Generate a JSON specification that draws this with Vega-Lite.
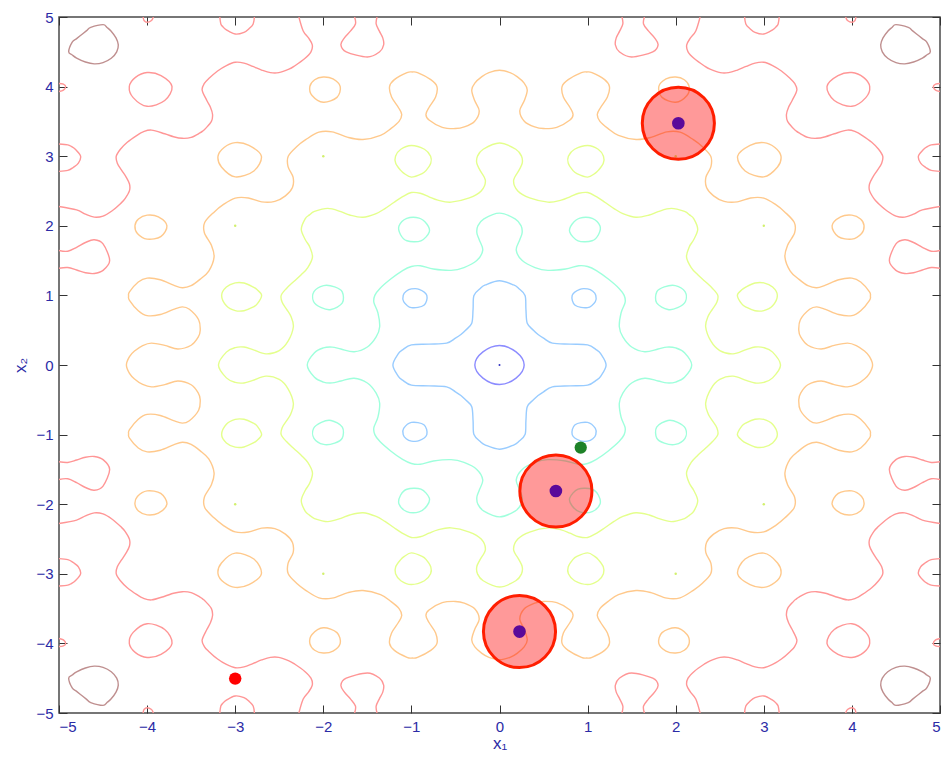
{
"$schema":"https://vega.github.io/schema/vega-lite/v6.json",
"width":881,"height":696,
"autosize":{"type":"none"},
"padding":{"left":59,"top":17,"right":6,"bottom":45},
"background":"white",
"config":{"view":{"stroke":"#4a4a4a","strokeWidth":1.5}},
"resolve":{"axis":{"x":"independent","y":"independent"}},
"layer":[
{
"data":{"values":"l,c,x,y\n2,a,0.28,0\n2,a,0.188,0.188\n2,a,0,0.28\n2,a,-0.188,0.188\n2,a,-0.28,0\n2,a,-0.188,-0.188\n2,a,0,-0.28\n2,a,0.188,-0.188\n4,b,1.21,0\n4,b,1.15,0.16\n4,b,1.1,0.218\n4,b,1,0.29\n4,b,0.8,0.3\n4,b,0.6,0.315\n4,b,0.5,0.385\n4,b,0.438,0.438\n4,b,0.385,0.5\n4,b,0.315,0.6\n4,b,0.3,0.8\n4,b,0.29,1\n4,b,0.218,1.1\n4,b,0.16,1.15\n4,b,0,1.21\n4,b,-0.16,1.15\n4,b,-0.218,1.1\n4,b,-0.29,1\n4,b,-0.3,0.8\n4,b,-0.315,0.6\n4,b,-0.385,0.5\n4,b,-0.438,0.438\n4,b,-0.5,0.385\n4,b,-0.6,0.315\n4,b,-0.8,0.3\n4,b,-1,0.29\n4,b,-1.1,0.218\n4,b,-1.15,0.16\n4,b,-1.21,0\n4,b,-1.15,-0.16\n4,b,-1.1,-0.218\n4,b,-1,-0.29\n4,b,-0.8,-0.3\n4,b,-0.6,-0.315\n4,b,-0.5,-0.385\n4,b,-0.438,-0.438\n4,b,-0.385,-0.5\n4,b,-0.315,-0.6\n4,b,-0.3,-0.8\n4,b,-0.29,-1\n4,b,-0.218,-1.1\n4,b,-0.16,-1.15\n4,b,0,-1.21\n4,b,0.16,-1.15\n4,b,0.218,-1.1\n4,b,0.29,-1\n4,b,0.3,-0.8\n4,b,0.315,-0.6\n4,b,0.385,-0.5\n4,b,0.438,-0.438\n4,b,0.5,-0.385\n4,b,0.6,-0.315\n4,b,0.8,-0.3\n4,b,1,-0.29\n4,b,1.1,-0.218\n4,b,1.15,-0.16\n4,c1,1.093,1\n4,c1,1.059,1.059\n4,c1,1,1.093\n4,c1,0.912,1.088\n4,c1,0.825,1\n4,c1,0.858,0.858\n4,c1,1,0.825\n4,c1,1.088,0.912\n4,c2,-1.093,1\n4,c2,-1.059,1.059\n4,c2,-1,1.093\n4,c2,-0.912,1.088\n4,c2,-0.825,1\n4,c2,-0.858,0.858\n4,c2,-1,0.825\n4,c2,-1.088,0.912\n4,c3,-1.093,-1\n4,c3,-1.059,-1.059\n4,c3,-1,-1.093\n4,c3,-0.912,-1.088\n4,c3,-0.825,-1\n4,c3,-0.858,-0.858\n4,c3,-1,-0.825\n4,c3,-1.088,-0.912\n4,c4,1.093,-1\n4,c4,1.059,-1.059\n4,c4,1,-1.093\n4,c4,0.912,-1.088\n4,c4,0.825,-1\n4,c4,0.858,-0.858\n4,c4,1,-0.825\n4,c4,1.088,-0.912\n6,d,2.182,0\n6,d,2.1,0.177\n6,d,2,0.245\n6,d,1.9,0.257\n6,d,1.8,0.23\n6,d,1.65,0.19\n6,d,1.5,0.258\n6,d,1.4,0.403\n6,d,1.36,0.55\n6,d,1.38,0.75\n6,d,1.426,0.9\n6,d,1.415,1\n6,d,1.357,1.1\n6,d,1.235,1.235\n6,d,1.1,1.357\n6,d,1,1.415\n6,d,0.9,1.426\n6,d,0.75,1.38\n6,d,0.55,1.36\n6,d,0.403,1.4\n6,d,0.258,1.5\n6,d,0.19,1.65\n6,d,0.23,1.8\n6,d,0.257,1.9\n6,d,0.245,2\n6,d,0.177,2.1\n6,d,0,2.182\n6,d,-0.177,2.1\n6,d,-0.245,2\n6,d,-0.257,1.9\n6,d,-0.23,1.8\n6,d,-0.19,1.65\n6,d,-0.258,1.5\n6,d,-0.403,1.4\n6,d,-0.55,1.36\n6,d,-0.75,1.38\n6,d,-0.9,1.426\n6,d,-1,1.415\n6,d,-1.1,1.357\n6,d,-1.235,1.235\n6,d,-1.357,1.1\n6,d,-1.415,1\n6,d,-1.426,0.9\n6,d,-1.38,0.75\n6,d,-1.36,0.55\n6,d,-1.4,0.403\n6,d,-1.5,0.258\n6,d,-1.65,0.19\n6,d,-1.8,0.23\n6,d,-1.9,0.257\n6,d,-2,0.245\n6,d,-2.1,0.177\n6,d,-2.182,0\n6,d,-2.1,-0.177\n6,d,-2,-0.245\n6,d,-1.9,-0.257\n6,d,-1.8,-0.23\n6,d,-1.65,-0.19\n6,d,-1.5,-0.258\n6,d,-1.4,-0.403\n6,d,-1.36,-0.55\n6,d,-1.38,-0.75\n6,d,-1.426,-0.9\n6,d,-1.415,-1\n6,d,-1.357,-1.1\n6,d,-1.235,-1.235\n6,d,-1.1,-1.357\n6,d,-1,-1.415\n6,d,-0.9,-1.426\n6,d,-0.75,-1.38\n6,d,-0.55,-1.36\n6,d,-0.403,-1.4\n6,d,-0.258,-1.5\n6,d,-0.19,-1.65\n6,d,-0.23,-1.8\n6,d,-0.257,-1.9\n6,d,-0.245,-2\n6,d,-0.177,-2.1\n6,d,0,-2.182\n6,d,0.177,-2.1\n6,d,0.245,-2\n6,d,0.257,-1.9\n6,d,0.23,-1.8\n6,d,0.19,-1.65\n6,d,0.258,-1.5\n6,d,0.403,-1.4\n6,d,0.55,-1.36\n6,d,0.75,-1.38\n6,d,0.9,-1.426\n6,d,1,-1.415\n6,d,1.1,-1.357\n6,d,1.235,-1.235\n6,d,1.357,-1.1\n6,d,1.415,-1\n6,d,1.426,-0.9\n6,d,1.38,-0.75\n6,d,1.36,-0.55\n6,d,1.4,-0.403\n6,d,1.5,-0.258\n6,d,1.65,-0.19\n6,d,1.8,-0.23\n6,d,1.9,-0.257\n6,d,2,-0.245\n6,d,2.1,-0.177\n6,e1,2.106,1.053\n6,e1,1.996,1.141\n6,e1,1.871,1.123\n6,e1,1.785,1.051\n6,e1,1.784,0.892\n6,e1,1.912,0.797\n6,e1,2.022,0.823\n6,e1,2.111,0.912\n6,e2,1.053,2.106\n6,e2,1.141,1.996\n6,e2,1.123,1.871\n6,e2,1.051,1.785\n6,e2,0.892,1.784\n6,e2,0.797,1.912\n6,e2,0.823,2.022\n6,e2,0.912,2.111\n6,e3,-1.053,2.106\n6,e3,-1.141,1.996\n6,e3,-1.123,1.871\n6,e3,-1.051,1.785\n6,e3,-0.892,1.784\n6,e3,-0.797,1.912\n6,e3,-0.823,2.022\n6,e3,-0.912,2.111\n6,e4,-2.106,1.053\n6,e4,-1.996,1.141\n6,e4,-1.871,1.123\n6,e4,-1.785,1.051\n6,e4,-1.784,0.892\n6,e4,-1.912,0.797\n6,e4,-2.022,0.823\n6,e4,-2.111,0.912\n6,e5,-2.106,-1.053\n6,e5,-1.996,-1.141\n6,e5,-1.871,-1.123\n6,e5,-1.785,-1.051\n6,e5,-1.784,-0.892\n6,e5,-1.912,-0.797\n6,e5,-2.022,-0.823\n6,e5,-2.111,-0.912\n6,e6,-1.053,-2.106\n6,e6,-1.141,-1.996\n6,e6,-1.123,-1.871\n6,e6,-1.051,-1.785\n6,e6,-0.892,-1.784\n6,e6,-0.797,-1.912\n6,e6,-0.823,-2.022\n6,e6,-0.912,-2.111\n6,e7,1.053,-2.106\n6,e7,1.141,-1.996\n6,e7,1.123,-1.871\n6,e7,1.051,-1.785\n6,e7,0.892,-1.784\n6,e7,0.797,-1.912\n6,e7,0.823,-2.022\n6,e7,0.912,-2.111\n6,e8,2.106,-1.053\n6,e8,1.996,-1.141\n6,e8,1.871,-1.123\n6,e8,1.785,-1.051\n6,e8,1.784,-0.892\n6,e8,1.912,-0.797\n6,e8,2.022,-0.823\n6,e8,2.111,-0.912\n8,f,3.19,0\n8,f,3.1,0.185\n8,f,3,0.25\n8,f,2.9,0.258\n8,f,2.8,0.222\n8,f,2.65,0.16\n8,f,2.5,0.208\n8,f,2.4,0.342\n8,f,2.34,0.55\n8,f,2.368,0.7\n8,f,2.416,0.8\n8,f,2.467,0.9\n8,f,2.478,1\n8,f,2.418,1.1\n8,f,2.335,1.2\n8,f,2.248,1.3\n8,f,2.176,1.4\n8,f,2.123,1.55\n8,f,2.155,1.7\n8,f,2.204,1.8\n8,f,2.25,1.95\n8,f,2.206,2.1\n8,f,2.157,2.157\n8,f,2.1,2.206\n8,f,1.95,2.25\n8,f,1.8,2.204\n8,f,1.7,2.155\n8,f,1.55,2.123\n8,f,1.4,2.176\n8,f,1.3,2.248\n8,f,1.2,2.335\n8,f,1.1,2.418\n8,f,1,2.478\n8,f,0.9,2.467\n8,f,0.8,2.416\n8,f,0.7,2.368\n8,f,0.55,2.34\n8,f,0.342,2.4\n8,f,0.208,2.5\n8,f,0.16,2.65\n8,f,0.222,2.8\n8,f,0.258,2.9\n8,f,0.25,3\n8,f,0.185,3.1\n8,f,0,3.19\n8,f,-0.185,3.1\n8,f,-0.25,3\n8,f,-0.258,2.9\n8,f,-0.222,2.8\n8,f,-0.16,2.65\n8,f,-0.208,2.5\n8,f,-0.342,2.4\n8,f,-0.55,2.34\n8,f,-0.7,2.368\n8,f,-0.8,2.416\n8,f,-0.9,2.467\n8,f,-1,2.478\n8,f,-1.1,2.418\n8,f,-1.2,2.335\n8,f,-1.3,2.248\n8,f,-1.4,2.176\n8,f,-1.55,2.123\n8,f,-1.7,2.155\n8,f,-1.8,2.204\n8,f,-1.95,2.25\n8,f,-2.1,2.206\n8,f,-2.157,2.157\n8,f,-2.206,2.1\n8,f,-2.25,1.95\n8,f,-2.204,1.8\n8,f,-2.155,1.7\n8,f,-2.123,1.55\n8,f,-2.176,1.4\n8,f,-2.248,1.3\n8,f,-2.335,1.2\n8,f,-2.418,1.1\n8,f,-2.478,1\n8,f,-2.467,0.9\n8,f,-2.416,0.8\n8,f,-2.368,0.7\n8,f,-2.34,0.55\n8,f,-2.4,0.342\n8,f,-2.5,0.208\n8,f,-2.65,0.16\n8,f,-2.8,0.222\n8,f,-2.9,0.258\n8,f,-3,0.25\n8,f,-3.1,0.185\n8,f,-3.19,0\n8,f,-3.1,-0.185\n8,f,-3,-0.25\n8,f,-2.9,-0.258\n8,f,-2.8,-0.222\n8,f,-2.65,-0.16\n8,f,-2.5,-0.208\n8,f,-2.4,-0.342\n8,f,-2.34,-0.55\n8,f,-2.368,-0.7\n8,f,-2.416,-0.8\n8,f,-2.467,-0.9\n8,f,-2.478,-1\n8,f,-2.418,-1.1\n8,f,-2.335,-1.2\n8,f,-2.248,-1.3\n8,f,-2.176,-1.4\n8,f,-2.123,-1.55\n8,f,-2.155,-1.7\n8,f,-2.204,-1.8\n8,f,-2.25,-1.95\n8,f,-2.206,-2.1\n8,f,-2.157,-2.157\n8,f,-2.1,-2.206\n8,f,-1.95,-2.25\n8,f,-1.8,-2.204\n8,f,-1.7,-2.155\n8,f,-1.55,-2.123\n8,f,-1.4,-2.176\n8,f,-1.3,-2.248\n8,f,-1.2,-2.335\n8,f,-1.1,-2.418\n8,f,-1,-2.478\n8,f,-0.9,-2.467\n8,f,-0.8,-2.416\n8,f,-0.7,-2.368\n8,f,-0.55,-2.34\n8,f,-0.342,-2.4\n8,f,-0.208,-2.5\n8,f,-0.16,-2.65\n8,f,-0.222,-2.8\n8,f,-0.258,-2.9\n8,f,-0.25,-3\n8,f,-0.185,-3.1\n8,f,0,-3.19\n8,f,0.185,-3.1\n8,f,0.25,-3\n8,f,0.258,-2.9\n8,f,0.222,-2.8\n8,f,0.16,-2.65\n8,f,0.208,-2.5\n8,f,0.342,-2.4\n8,f,0.55,-2.34\n8,f,0.7,-2.368\n8,f,0.8,-2.416\n8,f,0.9,-2.467\n8,f,1,-2.478\n8,f,1.1,-2.418\n8,f,1.2,-2.335\n8,f,1.3,-2.248\n8,f,1.4,-2.176\n8,f,1.55,-2.123\n8,f,1.7,-2.155\n8,f,1.8,-2.204\n8,f,1.95,-2.25\n8,f,2.1,-2.206\n8,f,2.157,-2.157\n8,f,2.206,-2.1\n8,f,2.25,-1.95\n8,f,2.204,-1.8\n8,f,2.155,-1.7\n8,f,2.123,-1.55\n8,f,2.176,-1.4\n8,f,2.248,-1.3\n8,f,2.335,-1.2\n8,f,2.418,-1.1\n8,f,2.478,-1\n8,f,2.467,-0.9\n8,f,2.416,-0.8\n8,f,2.368,-0.7\n8,f,2.34,-0.55\n8,f,2.4,-0.342\n8,f,2.5,-0.208\n8,f,2.65,-0.16\n8,f,2.8,-0.222\n8,f,2.9,-0.258\n8,f,3,-0.25\n8,f,3.1,-0.185\n8,g1,3.154,1\n8,g1,3.1,1.12\n8,g1,3,1.18\n8,g1,2.9,1.178\n8,g1,2.8,1.124\n8,g1,2.75,1.08\n8,g1,2.7,1\n8,g1,2.75,0.878\n8,g1,2.8,0.83\n8,g1,2.9,0.78\n8,g1,3,0.782\n8,g1,3.1,0.852\n8,g2,1,3.154\n8,g2,1.12,3.1\n8,g2,1.18,3\n8,g2,1.178,2.9\n8,g2,1.124,2.8\n8,g2,1.08,2.75\n8,g2,1,2.7\n8,g2,0.878,2.75\n8,g2,0.83,2.8\n8,g2,0.78,2.9\n8,g2,0.782,3\n8,g2,0.852,3.1\n8,g3,-1,3.154\n8,g3,-1.12,3.1\n8,g3,-1.18,3\n8,g3,-1.178,2.9\n8,g3,-1.124,2.8\n8,g3,-1.08,2.75\n8,g3,-1,2.7\n8,g3,-0.878,2.75\n8,g3,-0.83,2.8\n8,g3,-0.78,2.9\n8,g3,-0.782,3\n8,g3,-0.852,3.1\n8,g4,-3.154,1\n8,g4,-3.1,1.12\n8,g4,-3,1.18\n8,g4,-2.9,1.178\n8,g4,-2.8,1.124\n8,g4,-2.75,1.08\n8,g4,-2.7,1\n8,g4,-2.75,0.878\n8,g4,-2.8,0.83\n8,g4,-2.9,0.78\n8,g4,-3,0.782\n8,g4,-3.1,0.852\n8,g5,-3.154,-1\n8,g5,-3.1,-1.12\n8,g5,-3,-1.18\n8,g5,-2.9,-1.178\n8,g5,-2.8,-1.124\n8,g5,-2.75,-1.08\n8,g5,-2.7,-1\n8,g5,-2.75,-0.878\n8,g5,-2.8,-0.83\n8,g5,-2.9,-0.78\n8,g5,-3,-0.782\n8,g5,-3.1,-0.852\n8,g6,-1,-3.154\n8,g6,-1.12,-3.1\n8,g6,-1.18,-3\n8,g6,-1.178,-2.9\n8,g6,-1.124,-2.8\n8,g6,-1.08,-2.75\n8,g6,-1,-2.7\n8,g6,-0.878,-2.75\n8,g6,-0.83,-2.8\n8,g6,-0.78,-2.9\n8,g6,-0.782,-3\n8,g6,-0.852,-3.1\n8,g7,1,-3.154\n8,g7,1.12,-3.1\n8,g7,1.18,-3\n8,g7,1.178,-2.9\n8,g7,1.124,-2.8\n8,g7,1.08,-2.75\n8,g7,1,-2.7\n8,g7,0.878,-2.75\n8,g7,0.83,-2.8\n8,g7,0.78,-2.9\n8,g7,0.782,-3\n8,g7,0.852,-3.1\n8,g8,3.154,-1\n8,g8,3.1,-1.12\n8,g8,3,-1.18\n8,g8,2.9,-1.178\n8,g8,2.8,-1.124\n8,g8,2.75,-1.08\n8,g8,2.7,-1\n8,g8,2.75,-0.878\n8,g8,2.8,-0.83\n8,g8,2.9,-0.78\n8,g8,3,-0.782\n8,g8,3.1,-0.852\n10,h,4.235,0\n10,h,4.2,0.12\n10,h,4.143,0.2\n10,h,4.05,0.28\n10,h,3.95,0.315\n10,h,3.8,0.282\n10,h,3.65,0.23\n10,h,3.5,0.284\n10,h,3.42,0.4\n10,h,3.397,0.5\n10,h,3.415,0.65\n10,h,3.52,0.8\n10,h,3.6,0.835\n10,h,3.7,0.8\n10,h,3.85,0.725\n10,h,4,0.71\n10,h,4.1,0.78\n10,h,4.2,0.93\n10,h,4.21,0.99\n10,h,4.2,1.05\n10,h,4.1,1.193\n10,h,4,1.248\n10,h,3.85,1.225\n10,h,3.7,1.148\n10,h,3.6,1.11\n10,h,3.5,1.14\n10,h,3.4,1.23\n10,h,3.3,1.35\n10,h,3.24,1.55\n10,h,3.27,1.72\n10,h,3.35,1.9\n10,h,3.345,2.05\n10,h,3.237,2.2\n10,h,3.14,2.3\n10,h,3,2.398\n10,h,2.85,2.4\n10,h,2.7,2.343\n10,h,2.55,2.35\n10,h,2.43,2.43\n10,h,2.35,2.55\n10,h,2.343,2.7\n10,h,2.4,2.85\n10,h,2.398,3\n10,h,2.3,3.14\n10,h,2.2,3.237\n10,h,2.05,3.345\n10,h,1.9,3.35\n10,h,1.72,3.27\n10,h,1.55,3.24\n10,h,1.35,3.3\n10,h,1.23,3.4\n10,h,1.14,3.5\n10,h,1.11,3.6\n10,h,1.148,3.7\n10,h,1.225,3.85\n10,h,1.248,4\n10,h,1.193,4.1\n10,h,1.05,4.2\n10,h,0.99,4.21\n10,h,0.93,4.2\n10,h,0.78,4.1\n10,h,0.71,4\n10,h,0.725,3.85\n10,h,0.8,3.7\n10,h,0.835,3.6\n10,h,0.8,3.52\n10,h,0.65,3.415\n10,h,0.5,3.397\n10,h,0.4,3.42\n10,h,0.284,3.5\n10,h,0.23,3.65\n10,h,0.282,3.8\n10,h,0.315,3.95\n10,h,0.28,4.05\n10,h,0.2,4.143\n10,h,0.12,4.2\n10,h,0,4.235\n10,h,-0.12,4.2\n10,h,-0.2,4.143\n10,h,-0.28,4.05\n10,h,-0.315,3.95\n10,h,-0.282,3.8\n10,h,-0.23,3.65\n10,h,-0.284,3.5\n10,h,-0.4,3.42\n10,h,-0.5,3.397\n10,h,-0.65,3.415\n10,h,-0.8,3.52\n10,h,-0.835,3.6\n10,h,-0.8,3.7\n10,h,-0.725,3.85\n10,h,-0.71,4\n10,h,-0.78,4.1\n10,h,-0.93,4.2\n10,h,-0.99,4.21\n10,h,-1.05,4.2\n10,h,-1.193,4.1\n10,h,-1.248,4\n10,h,-1.225,3.85\n10,h,-1.148,3.7\n10,h,-1.11,3.6\n10,h,-1.14,3.5\n10,h,-1.23,3.4\n10,h,-1.35,3.3\n10,h,-1.55,3.24\n10,h,-1.72,3.27\n10,h,-1.9,3.35\n10,h,-2.05,3.345\n10,h,-2.2,3.237\n10,h,-2.3,3.14\n10,h,-2.398,3\n10,h,-2.4,2.85\n10,h,-2.343,2.7\n10,h,-2.35,2.55\n10,h,-2.43,2.43\n10,h,-2.55,2.35\n10,h,-2.7,2.343\n10,h,-2.85,2.4\n10,h,-3,2.398\n10,h,-3.14,2.3\n10,h,-3.237,2.2\n10,h,-3.345,2.05\n10,h,-3.35,1.9\n10,h,-3.27,1.72\n10,h,-3.24,1.55\n10,h,-3.3,1.35\n10,h,-3.4,1.23\n10,h,-3.5,1.14\n10,h,-3.6,1.11\n10,h,-3.7,1.148\n10,h,-3.85,1.225\n10,h,-4,1.248\n10,h,-4.1,1.193\n10,h,-4.2,1.05\n10,h,-4.21,0.99\n10,h,-4.2,0.93\n10,h,-4.1,0.78\n10,h,-4,0.71\n10,h,-3.85,0.725\n10,h,-3.7,0.8\n10,h,-3.6,0.835\n10,h,-3.52,0.8\n10,h,-3.415,0.65\n10,h,-3.397,0.5\n10,h,-3.42,0.4\n10,h,-3.5,0.284\n10,h,-3.65,0.23\n10,h,-3.8,0.282\n10,h,-3.95,0.315\n10,h,-4.05,0.28\n10,h,-4.143,0.2\n10,h,-4.2,0.12\n10,h,-4.235,0\n10,h,-4.2,-0.12\n10,h,-4.143,-0.2\n10,h,-4.05,-0.28\n10,h,-3.95,-0.315\n10,h,-3.8,-0.282\n10,h,-3.65,-0.23\n10,h,-3.5,-0.284\n10,h,-3.42,-0.4\n10,h,-3.397,-0.5\n10,h,-3.415,-0.65\n10,h,-3.52,-0.8\n10,h,-3.6,-0.835\n10,h,-3.7,-0.8\n10,h,-3.85,-0.725\n10,h,-4,-0.71\n10,h,-4.1,-0.78\n10,h,-4.2,-0.93\n10,h,-4.21,-0.99\n10,h,-4.2,-1.05\n10,h,-4.1,-1.193\n10,h,-4,-1.248\n10,h,-3.85,-1.225\n10,h,-3.7,-1.148\n10,h,-3.6,-1.11\n10,h,-3.5,-1.14\n10,h,-3.4,-1.23\n10,h,-3.3,-1.35\n10,h,-3.24,-1.55\n10,h,-3.27,-1.72\n10,h,-3.35,-1.9\n10,h,-3.345,-2.05\n10,h,-3.237,-2.2\n10,h,-3.14,-2.3\n10,h,-3,-2.398\n10,h,-2.85,-2.4\n10,h,-2.7,-2.343\n10,h,-2.55,-2.35\n10,h,-2.43,-2.43\n10,h,-2.35,-2.55\n10,h,-2.343,-2.7\n10,h,-2.4,-2.85\n10,h,-2.398,-3\n10,h,-2.3,-3.14\n10,h,-2.2,-3.237\n10,h,-2.05,-3.345\n10,h,-1.9,-3.35\n10,h,-1.72,-3.27\n10,h,-1.55,-3.24\n10,h,-1.35,-3.3\n10,h,-1.23,-3.4\n10,h,-1.14,-3.5\n10,h,-1.11,-3.6\n10,h,-1.148,-3.7\n10,h,-1.225,-3.85\n10,h,-1.248,-4\n10,h,-1.193,-4.1\n10,h,-1.05,-4.2\n10,h,-0.99,-4.21\n10,h,-0.93,-4.2\n10,h,-0.78,-4.1\n10,h,-0.71,-4\n10,h,-0.725,-3.85\n10,h,-0.8,-3.7\n10,h,-0.835,-3.6\n10,h,-0.8,-3.52\n10,h,-0.65,-3.415\n10,h,-0.5,-3.397\n10,h,-0.4,-3.42\n10,h,-0.284,-3.5\n10,h,-0.23,-3.65\n10,h,-0.282,-3.8\n10,h,-0.315,-3.95\n10,h,-0.28,-4.05\n10,h,-0.2,-4.143\n10,h,-0.12,-4.2\n10,h,0,-4.235\n10,h,0.12,-4.2\n10,h,0.2,-4.143\n10,h,0.28,-4.05\n10,h,0.315,-3.95\n10,h,0.282,-3.8\n10,h,0.23,-3.65\n10,h,0.284,-3.5\n10,h,0.4,-3.42\n10,h,0.5,-3.397\n10,h,0.65,-3.415\n10,h,0.8,-3.52\n10,h,0.835,-3.6\n10,h,0.8,-3.7\n10,h,0.725,-3.85\n10,h,0.71,-4\n10,h,0.78,-4.1\n10,h,0.93,-4.2\n10,h,0.99,-4.21\n10,h,1.05,-4.2\n10,h,1.193,-4.1\n10,h,1.248,-4\n10,h,1.225,-3.85\n10,h,1.148,-3.7\n10,h,1.11,-3.6\n10,h,1.14,-3.5\n10,h,1.23,-3.4\n10,h,1.35,-3.3\n10,h,1.55,-3.24\n10,h,1.72,-3.27\n10,h,1.9,-3.35\n10,h,2.05,-3.345\n10,h,2.2,-3.237\n10,h,2.3,-3.14\n10,h,2.398,-3\n10,h,2.4,-2.85\n10,h,2.343,-2.7\n10,h,2.35,-2.55\n10,h,2.43,-2.43\n10,h,2.55,-2.35\n10,h,2.7,-2.343\n10,h,2.85,-2.4\n10,h,3,-2.398\n10,h,3.14,-2.3\n10,h,3.237,-2.2\n10,h,3.345,-2.05\n10,h,3.35,-1.9\n10,h,3.27,-1.72\n10,h,3.24,-1.55\n10,h,3.3,-1.35\n10,h,3.4,-1.23\n10,h,3.5,-1.14\n10,h,3.6,-1.11\n10,h,3.7,-1.148\n10,h,3.85,-1.225\n10,h,4,-1.248\n10,h,4.1,-1.193\n10,h,4.2,-1.05\n10,h,4.21,-0.99\n10,h,4.2,-0.93\n10,h,4.1,-0.78\n10,h,4,-0.71\n10,h,3.85,-0.725\n10,h,3.7,-0.8\n10,h,3.6,-0.835\n10,h,3.52,-0.8\n10,h,3.415,-0.65\n10,h,3.397,-0.5\n10,h,3.42,-0.4\n10,h,3.5,-0.284\n10,h,3.65,-0.23\n10,h,3.8,-0.282\n10,h,3.95,-0.315\n10,h,4.05,-0.28\n10,h,4.143,-0.2\n10,h,4.2,-0.12\n10,i1,3.195,3\n10,i1,3.126,3.126\n10,i1,3,3.195\n10,i1,2.844,3.156\n10,i1,2.703,3\n10,i1,2.788,2.788\n10,i1,3,2.703\n10,i1,3.156,2.844\n10,i2,-3.195,3\n10,i2,-3.126,3.126\n10,i2,-3,3.195\n10,i2,-2.844,3.156\n10,i2,-2.703,3\n10,i2,-2.788,2.788\n10,i2,-3,2.703\n10,i2,-3.156,2.844\n10,i3,-3.195,-3\n10,i3,-3.126,-3.126\n10,i3,-3,-3.195\n10,i3,-2.844,-3.156\n10,i3,-2.703,-3\n10,i3,-2.788,-2.788\n10,i3,-3,-2.703\n10,i3,-3.156,-2.844\n10,i4,3.195,-3\n10,i4,3.126,-3.126\n10,i4,3,-3.195\n10,i4,2.844,-3.156\n10,i4,2.703,-3\n10,i4,2.788,-2.788\n10,i4,3,-2.703\n10,i4,3.156,-2.844\n10,j1,4.138,2\n10,j1,4.098,2.098\n10,j1,4,2.153\n10,j1,3.872,2.128\n10,j1,3.775,2\n10,j1,3.845,1.845\n10,j1,4,1.808\n10,j1,4.11,1.89\n10,j2,2,4.138\n10,j2,2.098,4.098\n10,j2,2.153,4\n10,j2,2.128,3.872\n10,j2,2,3.775\n10,j2,1.845,3.845\n10,j2,1.808,4\n10,j2,1.89,4.11\n10,j3,-2,4.138\n10,j3,-2.098,4.098\n10,j3,-2.153,4\n10,j3,-2.128,3.872\n10,j3,-2,3.775\n10,j3,-1.845,3.845\n10,j3,-1.808,4\n10,j3,-1.89,4.11\n10,j4,-4.138,2\n10,j4,-4.098,2.098\n10,j4,-4,2.153\n10,j4,-3.872,2.128\n10,j4,-3.775,2\n10,j4,-3.845,1.845\n10,j4,-4,1.808\n10,j4,-4.11,1.89\n10,j5,-4.138,-2\n10,j5,-4.098,-2.098\n10,j5,-4,-2.153\n10,j5,-3.872,-2.128\n10,j5,-3.775,-2\n10,j5,-3.845,-1.845\n10,j5,-4,-1.808\n10,j5,-4.11,-1.89\n10,j6,-2,-4.138\n10,j6,-2.098,-4.098\n10,j6,-2.153,-4\n10,j6,-2.128,-3.872\n10,j6,-2,-3.775\n10,j6,-1.845,-3.845\n10,j6,-1.808,-4\n10,j6,-1.89,-4.11\n10,j7,2,-4.138\n10,j7,2.098,-4.098\n10,j7,2.153,-4\n10,j7,2.128,-3.872\n10,j7,2,-3.775\n10,j7,1.845,-3.845\n10,j7,1.808,-4\n10,j7,1.89,-4.11\n10,j8,4.138,-2\n10,j8,4.098,-2.098\n10,j8,4,-2.153\n10,j8,3.872,-2.128\n10,j8,3.775,-2\n10,j8,3.845,-1.845\n10,j8,4,-1.808\n10,j8,4.11,-1.89\n12,k1,4.202,4\n12,k1,4.132,4.132\n12,k1,4,4.202\n12,k1,3.842,4.158\n12,k1,3.717,4\n12,k1,3.8,3.8\n12,k1,4,3.717\n12,k1,4.158,3.842\n12,k2,-4.202,4\n12,k2,-4.132,4.132\n12,k2,-4,4.202\n12,k2,-3.842,4.158\n12,k2,-3.717,4\n12,k2,-3.8,3.8\n12,k2,-4,3.717\n12,k2,-4.158,3.842\n12,k3,-4.202,-4\n12,k3,-4.132,-4.132\n12,k3,-4,-4.202\n12,k3,-3.842,-4.158\n12,k3,-3.717,-4\n12,k3,-3.8,-3.8\n12,k3,-4,-3.717\n12,k3,-4.158,-3.842\n12,k4,4.202,-4\n12,k4,4.132,-4.132\n12,k4,4,-4.202\n12,k4,3.842,-4.158\n12,k4,3.717,-4\n12,k4,3.8,-3.8\n12,k4,4,-3.717\n12,k4,4.158,-3.842\n14,m1,4.89,4.5\n14,m1,4.85,4.64\n14,m1,4.8,4.69\n14,m1,4.745,4.745\n14,m1,4.69,4.8\n14,m1,4.64,4.85\n14,m1,4.5,4.89\n14,m1,4.455,4.85\n14,m1,4.41,4.8\n14,m1,4.353,4.7\n14,m1,4.327,4.6\n14,m1,4.345,4.5\n14,m1,4.407,4.407\n14,m1,4.5,4.345\n14,m1,4.6,4.327\n14,m1,4.7,4.353\n14,m1,4.8,4.41\n14,m1,4.85,4.455\n14,m2,-4.89,4.5\n14,m2,-4.85,4.64\n14,m2,-4.8,4.69\n14,m2,-4.745,4.745\n14,m2,-4.69,4.8\n14,m2,-4.64,4.85\n14,m2,-4.5,4.89\n14,m2,-4.455,4.85\n14,m2,-4.41,4.8\n14,m2,-4.353,4.7\n14,m2,-4.327,4.6\n14,m2,-4.345,4.5\n14,m2,-4.407,4.407\n14,m2,-4.5,4.345\n14,m2,-4.6,4.327\n14,m2,-4.7,4.353\n14,m2,-4.8,4.41\n14,m2,-4.85,4.455\n14,m3,-4.89,-4.5\n14,m3,-4.85,-4.64\n14,m3,-4.8,-4.69\n14,m3,-4.745,-4.745\n14,m3,-4.69,-4.8\n14,m3,-4.64,-4.85\n14,m3,-4.5,-4.89\n14,m3,-4.455,-4.85\n14,m3,-4.41,-4.8\n14,m3,-4.353,-4.7\n14,m3,-4.327,-4.6\n14,m3,-4.345,-4.5\n14,m3,-4.407,-4.407\n14,m3,-4.5,-4.345\n14,m3,-4.6,-4.327\n14,m3,-4.7,-4.353\n14,m3,-4.8,-4.41\n14,m3,-4.85,-4.455\n14,m4,4.89,-4.5\n14,m4,4.85,-4.64\n14,m4,4.8,-4.69\n14,m4,4.745,-4.745\n14,m4,4.69,-4.8\n14,m4,4.64,-4.85\n14,m4,4.5,-4.89\n14,m4,4.455,-4.85\n14,m4,4.41,-4.8\n14,m4,4.353,-4.7\n14,m4,4.327,-4.6\n14,m4,4.345,-4.5\n14,m4,4.407,-4.407\n14,m4,4.5,-4.345\n14,m4,4.6,-4.327\n14,m4,4.7,-4.353\n14,m4,4.8,-4.41\n14,m4,4.85,-4.455","format":{"type":"csv","parse":{"l":"number","x":"number","y":"number"}}},
"mark":{"type":"line","interpolate":"cardinal-closed","strokeWidth":1.4,"clip":true},
"encoding":{
"x":{"field":"x","type":"quantitative","scale":{"domain":[-5,5],"nice":false,"zero":false},
"axis":{"orient":"bottom","values":[-5,-4,-3,-2,-1,0,1,2,3,4,5],"grid":false,"domain":false,"tickSize":-8,"tickColor":"#333333","tickWidth":1,"labelPadding":14,"labelFont":"Liberation Sans","labelFontSize":15,"labelColor":"#2b2ba6","title":"x₁","titleFont":"Liberation Sans, DejaVu Sans","titleFontSize":17,"titleFontWeight":"normal","titleColor":"#2b2ba6","titlePadding":1}},
"y":{"field":"y","type":"quantitative","scale":{"domain":[-5,5],"nice":false,"zero":false},
"axis":{"orient":"left","values":[-5,-4,-3,-2,-1,0,1,2,3,4,5],"grid":false,"domain":false,"tickSize":-8,"tickColor":"#333333","tickWidth":1,"labelPadding":14,"labelFont":"Liberation Sans","labelFontSize":15,"labelColor":"#2b2ba6","title":"x₂","titleFont":"Liberation Sans, DejaVu Sans","titleFontSize":17,"titleFontWeight":"normal","titleColor":"#2b2ba6","titlePadding":6}},
"color":{"field":"l","type":"ordinal","scale":{"domain":[2,4,6,8,10,12,14],"range":["#8c8cff","#99ccff","#9fffdc","#e4ff8c","#ffc98c","#ff9696","#bf8f8f"]},"legend":null},
"detail":{"field":"c","type":"nominal"},
"order":{"value":null}
}
},
{
"data":{"values":"l,c,x,y\n12,n1,5,1.39\n12,n1,4.9,1.4\n12,n1,4.8,1.365\n12,n1,4.7,1.325\n12,n1,4.6,1.315\n12,n1,4.5,1.36\n12,n1,4.425,1.5\n12,n1,4.5,1.74\n12,n1,4.6,1.8\n12,n1,4.7,1.76\n12,n1,4.8,1.69\n12,n1,4.9,1.635\n12,n1,5,1.645\n12,n2,5,-1.39\n12,n2,4.9,-1.4\n12,n2,4.8,-1.365\n12,n2,4.7,-1.325\n12,n2,4.6,-1.315\n12,n2,4.5,-1.36\n12,n2,4.425,-1.5\n12,n2,4.5,-1.74\n12,n2,4.6,-1.8\n12,n2,4.7,-1.76\n12,n2,4.8,-1.69\n12,n2,4.9,-1.635\n12,n2,5,-1.645\n12,n3,-5,1.39\n12,n3,-4.9,1.4\n12,n3,-4.8,1.365\n12,n3,-4.7,1.325\n12,n3,-4.6,1.315\n12,n3,-4.5,1.36\n12,n3,-4.425,1.5\n12,n3,-4.5,1.74\n12,n3,-4.6,1.8\n12,n3,-4.7,1.76\n12,n3,-4.8,1.69\n12,n3,-4.9,1.635\n12,n3,-5,1.645\n12,n4,-5,-1.39\n12,n4,-4.9,-1.4\n12,n4,-4.8,-1.365\n12,n4,-4.7,-1.325\n12,n4,-4.6,-1.315\n12,n4,-4.5,-1.36\n12,n4,-4.425,-1.5\n12,n4,-4.5,-1.74\n12,n4,-4.6,-1.8\n12,n4,-4.7,-1.76\n12,n4,-4.8,-1.69\n12,n4,-4.9,-1.635\n12,n4,-5,-1.645\n12,n5,1.39,5\n12,n5,1.4,4.9\n12,n5,1.365,4.8\n12,n5,1.325,4.7\n12,n5,1.315,4.6\n12,n5,1.36,4.5\n12,n5,1.5,4.425\n12,n5,1.74,4.5\n12,n5,1.8,4.6\n12,n5,1.76,4.7\n12,n5,1.69,4.8\n12,n5,1.635,4.9\n12,n5,1.645,5\n12,n6,-1.39,5\n12,n6,-1.4,4.9\n12,n6,-1.365,4.8\n12,n6,-1.325,4.7\n12,n6,-1.315,4.6\n12,n6,-1.36,4.5\n12,n6,-1.5,4.425\n12,n6,-1.74,4.5\n12,n6,-1.8,4.6\n12,n6,-1.76,4.7\n12,n6,-1.69,4.8\n12,n6,-1.635,4.9\n12,n6,-1.645,5\n12,n7,1.39,-5\n12,n7,1.4,-4.9\n12,n7,1.365,-4.8\n12,n7,1.325,-4.7\n12,n7,1.315,-4.6\n12,n7,1.36,-4.5\n12,n7,1.5,-4.425\n12,n7,1.74,-4.5\n12,n7,1.8,-4.6\n12,n7,1.76,-4.7\n12,n7,1.69,-4.8\n12,n7,1.635,-4.9\n12,n7,1.645,-5\n12,n8,-1.39,-5\n12,n8,-1.4,-4.9\n12,n8,-1.365,-4.8\n12,n8,-1.325,-4.7\n12,n8,-1.315,-4.6\n12,n8,-1.36,-4.5\n12,n8,-1.5,-4.425\n12,n8,-1.74,-4.5\n12,n8,-1.8,-4.6\n12,n8,-1.76,-4.7\n12,n8,-1.69,-4.8\n12,n8,-1.635,-4.9\n12,n8,-1.645,-5\n12,o1,5,2.277\n12,o1,4.8,2.228\n12,o1,4.7,2.168\n12,o1,4.6,2.125\n12,o1,4.5,2.14\n12,o1,4.4,2.213\n12,o1,4.3,2.322\n12,o1,4.25,2.39\n12,o1,4.2,2.505\n12,o1,4.2,2.6\n12,o1,4.238,2.7\n12,o1,4.29,2.8\n12,o1,4.338,2.9\n12,o1,4.35,3\n12,o1,4.303,3.1\n12,o1,4.225,3.2\n12,o1,4.115,3.3\n12,o1,4.045,3.35\n12,o1,3.95,3.375\n12,o1,3.8,3.322\n12,o1,3.7,3.28\n12,o1,3.6,3.257\n12,o1,3.5,3.27\n12,o1,3.4,3.335\n12,o1,3.365,3.365\n12,o1,3.335,3.4\n12,o1,3.27,3.5\n12,o1,3.257,3.6\n12,o1,3.28,3.7\n12,o1,3.322,3.8\n12,o1,3.375,3.95\n12,o1,3.35,4.045\n12,o1,3.3,4.115\n12,o1,3.2,4.225\n12,o1,3.1,4.303\n12,o1,3,4.35\n12,o1,2.9,4.338\n12,o1,2.8,4.29\n12,o1,2.7,4.238\n12,o1,2.6,4.2\n12,o1,2.505,4.2\n12,o1,2.39,4.25\n12,o1,2.322,4.3\n12,o1,2.213,4.4\n12,o1,2.14,4.5\n12,o1,2.125,4.6\n12,o1,2.168,4.7\n12,o1,2.228,4.8\n12,o1,2.277,5\n12,o2,-5,2.277\n12,o2,-4.8,2.228\n12,o2,-4.7,2.168\n12,o2,-4.6,2.125\n12,o2,-4.5,2.14\n12,o2,-4.4,2.213\n12,o2,-4.3,2.322\n12,o2,-4.25,2.39\n12,o2,-4.2,2.505\n12,o2,-4.2,2.6\n12,o2,-4.238,2.7\n12,o2,-4.29,2.8\n12,o2,-4.338,2.9\n12,o2,-4.35,3\n12,o2,-4.303,3.1\n12,o2,-4.225,3.2\n12,o2,-4.115,3.3\n12,o2,-4.045,3.35\n12,o2,-3.95,3.375\n12,o2,-3.8,3.322\n12,o2,-3.7,3.28\n12,o2,-3.6,3.257\n12,o2,-3.5,3.27\n12,o2,-3.4,3.335\n12,o2,-3.365,3.365\n12,o2,-3.335,3.4\n12,o2,-3.27,3.5\n12,o2,-3.257,3.6\n12,o2,-3.28,3.7\n12,o2,-3.322,3.8\n12,o2,-3.375,3.95\n12,o2,-3.35,4.045\n12,o2,-3.3,4.115\n12,o2,-3.2,4.225\n12,o2,-3.1,4.303\n12,o2,-3,4.35\n12,o2,-2.9,4.338\n12,o2,-2.8,4.29\n12,o2,-2.7,4.238\n12,o2,-2.6,4.2\n12,o2,-2.505,4.2\n12,o2,-2.39,4.25\n12,o2,-2.322,4.3\n12,o2,-2.213,4.4\n12,o2,-2.14,4.5\n12,o2,-2.125,4.6\n12,o2,-2.168,4.7\n12,o2,-2.228,4.8\n12,o2,-2.277,5\n12,o3,-5,-2.277\n12,o3,-4.8,-2.228\n12,o3,-4.7,-2.168\n12,o3,-4.6,-2.125\n12,o3,-4.5,-2.14\n12,o3,-4.4,-2.213\n12,o3,-4.3,-2.322\n12,o3,-4.25,-2.39\n12,o3,-4.2,-2.505\n12,o3,-4.2,-2.6\n12,o3,-4.238,-2.7\n12,o3,-4.29,-2.8\n12,o3,-4.338,-2.9\n12,o3,-4.35,-3\n12,o3,-4.303,-3.1\n12,o3,-4.225,-3.2\n12,o3,-4.115,-3.3\n12,o3,-4.045,-3.35\n12,o3,-3.95,-3.375\n12,o3,-3.8,-3.322\n12,o3,-3.7,-3.28\n12,o3,-3.6,-3.257\n12,o3,-3.5,-3.27\n12,o3,-3.4,-3.335\n12,o3,-3.365,-3.365\n12,o3,-3.335,-3.4\n12,o3,-3.27,-3.5\n12,o3,-3.257,-3.6\n12,o3,-3.28,-3.7\n12,o3,-3.322,-3.8\n12,o3,-3.375,-3.95\n12,o3,-3.35,-4.045\n12,o3,-3.3,-4.115\n12,o3,-3.2,-4.225\n12,o3,-3.1,-4.303\n12,o3,-3,-4.35\n12,o3,-2.9,-4.338\n12,o3,-2.8,-4.29\n12,o3,-2.7,-4.238\n12,o3,-2.6,-4.2\n12,o3,-2.505,-4.2\n12,o3,-2.39,-4.25\n12,o3,-2.322,-4.3\n12,o3,-2.213,-4.4\n12,o3,-2.14,-4.5\n12,o3,-2.125,-4.6\n12,o3,-2.168,-4.7\n12,o3,-2.228,-4.8\n12,o3,-2.277,-5\n12,o4,5,-2.277\n12,o4,4.8,-2.228\n12,o4,4.7,-2.168\n12,o4,4.6,-2.125\n12,o4,4.5,-2.14\n12,o4,4.4,-2.213\n12,o4,4.3,-2.322\n12,o4,4.25,-2.39\n12,o4,4.2,-2.505\n12,o4,4.2,-2.6\n12,o4,4.238,-2.7\n12,o4,4.29,-2.8\n12,o4,4.338,-2.9\n12,o4,4.35,-3\n12,o4,4.303,-3.1\n12,o4,4.225,-3.2\n12,o4,4.115,-3.3\n12,o4,4.045,-3.35\n12,o4,3.95,-3.375\n12,o4,3.8,-3.322\n12,o4,3.7,-3.28\n12,o4,3.6,-3.257\n12,o4,3.5,-3.27\n12,o4,3.4,-3.335\n12,o4,3.365,-3.365\n12,o4,3.335,-3.4\n12,o4,3.27,-3.5\n12,o4,3.257,-3.6\n12,o4,3.28,-3.7\n12,o4,3.322,-3.8\n12,o4,3.375,-3.95\n12,o4,3.35,-4.045\n12,o4,3.3,-4.115\n12,o4,3.2,-4.225\n12,o4,3.1,-4.303\n12,o4,3,-4.35\n12,o4,2.9,-4.338\n12,o4,2.8,-4.29\n12,o4,2.7,-4.238\n12,o4,2.6,-4.2\n12,o4,2.505,-4.2\n12,o4,2.39,-4.25\n12,o4,2.322,-4.3\n12,o4,2.213,-4.4\n12,o4,2.14,-4.5\n12,o4,2.125,-4.6\n12,o4,2.168,-4.7\n12,o4,2.228,-4.8\n12,o4,2.277,-5\n12,p1,5,2.782\n12,p1,4.9,2.796\n12,p1,4.838,2.838\n12,p1,4.78,2.9\n12,p1,4.755,3\n12,p1,4.815,3.1\n12,p1,4.86,3.14\n12,p1,4.9,3.163\n12,p1,5,3.175\n12,p2,5,-2.782\n12,p2,4.9,-2.796\n12,p2,4.838,-2.838\n12,p2,4.78,-2.9\n12,p2,4.755,-3\n12,p2,4.815,-3.1\n12,p2,4.86,-3.14\n12,p2,4.9,-3.163\n12,p2,5,-3.175\n12,p3,-5,2.782\n12,p3,-4.9,2.796\n12,p3,-4.838,2.838\n12,p3,-4.78,2.9\n12,p3,-4.755,3\n12,p3,-4.815,3.1\n12,p3,-4.86,3.14\n12,p3,-4.9,3.163\n12,p3,-5,3.175\n12,p4,-5,-2.782\n12,p4,-4.9,-2.796\n12,p4,-4.838,-2.838\n12,p4,-4.78,-2.9\n12,p4,-4.755,-3\n12,p4,-4.815,-3.1\n12,p4,-4.86,-3.14\n12,p4,-4.9,-3.163\n12,p4,-5,-3.175\n12,p5,2.782,5\n12,p5,2.796,4.9\n12,p5,2.838,4.838\n12,p5,2.9,4.78\n12,p5,3,4.755\n12,p5,3.1,4.815\n12,p5,3.14,4.86\n12,p5,3.163,4.9\n12,p5,3.175,5\n12,p6,-2.782,5\n12,p6,-2.796,4.9\n12,p6,-2.838,4.838\n12,p6,-2.9,4.78\n12,p6,-3,4.755\n12,p6,-3.1,4.815\n12,p6,-3.14,4.86\n12,p6,-3.163,4.9\n12,p6,-3.175,5\n12,p7,2.782,-5\n12,p7,2.796,-4.9\n12,p7,2.838,-4.838\n12,p7,2.9,-4.78\n12,p7,3,-4.755\n12,p7,3.1,-4.815\n12,p7,3.14,-4.86\n12,p7,3.163,-4.9\n12,p7,3.175,-5\n12,p8,-2.782,-5\n12,p8,-2.796,-4.9\n12,p8,-2.838,-4.838\n12,p8,-2.9,-4.78\n12,p8,-3,-4.755\n12,p8,-3.1,-4.815\n12,p8,-3.14,-4.86\n12,p8,-3.163,-4.9\n12,p8,-3.175,-5\n12,q1,5,3.929\n12,q1,4.95,3.95\n12,q1,4.924,4\n12,q1,4.95,4.035\n12,q1,5,4.045\n12,q2,5,-3.929\n12,q2,4.95,-3.95\n12,q2,4.924,-4\n12,q2,4.95,-4.035\n12,q2,5,-4.045\n12,q3,-5,3.929\n12,q3,-4.95,3.95\n12,q3,-4.924,4\n12,q3,-4.95,4.035\n12,q3,-5,4.045\n12,q4,-5,-3.929\n12,q4,-4.95,-3.95\n12,q4,-4.924,-4\n12,q4,-4.95,-4.035\n12,q4,-5,-4.045\n12,q5,3.929,5\n12,q5,3.95,4.95\n12,q5,4,4.924\n12,q5,4.035,4.95\n12,q5,4.045,5\n12,q6,-3.929,5\n12,q6,-3.95,4.95\n12,q6,-4,4.924\n12,q6,-4.035,4.95\n12,q6,-4.045,5\n12,q7,3.929,-5\n12,q7,3.95,-4.95\n12,q7,4,-4.924\n12,q7,4.035,-4.95\n12,q7,4.045,-5\n12,q8,-3.929,-5\n12,q8,-3.95,-4.95\n12,q8,-4,-4.924\n12,q8,-4.035,-4.95\n12,q8,-4.045,-5","format":{"type":"csv","parse":{"l":"number","x":"number","y":"number"}}},
"mark":{"type":"line","interpolate":"cardinal","strokeWidth":1.4,"clip":true},
"encoding":{
"x":{"field":"x","type":"quantitative","scale":{"domain":[-5,5],"nice":false,"zero":false},
"axis":{"orient":"top","values":[-5,-4,-3,-2,-1,0,1,2,3,4,5],"grid":false,"domain":false,"labels":false,"tickSize":-8,"tickColor":"#333333","tickWidth":1,"title":null}},
"y":{"field":"y","type":"quantitative","scale":{"domain":[-5,5],"nice":false,"zero":false},
"axis":{"orient":"right","values":[-5,-4,-3,-2,-1,0,1,2,3,4,5],"grid":false,"domain":false,"labels":false,"tickSize":-8,"tickColor":"#333333","tickWidth":1,"title":null}},
"color":{"field":"l","type":"ordinal","scale":{"domain":[2,4,6,8,10,12,14],"range":["#8c8cff","#99ccff","#9fffdc","#e4ff8c","#ffc98c","#ff9696","#bf8f8f"]},"legend":null},
"detail":{"field":"c","type":"nominal"},
"order":{"value":null}
}
},
{
"data":{"values":[{"x":3,"y":2},{"x":2,"y":3},{"x":-2,"y":3},{"x":-3,"y":2},{"x":-3,"y":-2},{"x":-2,"y":-3},{"x":2,"y":-3},{"x":3,"y":-2}]},
"mark":{"type":"circle","size":6,"color":"#d2f06e","opacity":1},
"encoding":{"x":{"field":"x","type":"quantitative","scale":{"domain":[-5,5]},"axis":null},"y":{"field":"y","type":"quantitative","scale":{"domain":[-5,5]},"axis":null}}
},
{
"data":{"values":[{"x":0,"y":0}]},
"mark":{"type":"circle","size":4,"color":"#3030c0","opacity":1},
"encoding":{"x":{"field":"x","type":"quantitative","scale":{"domain":[-5,5]},"axis":null},"y":{"field":"y","type":"quantitative","scale":{"domain":[-5,5]},"axis":null}}
},
{
"data":{"values":[{"x":2.03,"y":3.473},{"x":0.64,"y":-1.81},{"x":0.227,"y":-3.83}]},
"mark":{"type":"circle","size":5200,"fill":"#ff0000","fillOpacity":0.4,"stroke":"#ff1e00","strokeWidth":3,"strokeOpacity":1,"opacity":1},
"encoding":{"x":{"field":"x","type":"quantitative","scale":{"domain":[-5,5]},"axis":null},"y":{"field":"y","type":"quantitative","scale":{"domain":[-5,5]},"axis":null}}
},
{
"data":{"values":[{"x":2.03,"y":3.473},{"x":0.64,"y":-1.81},{"x":0.227,"y":-3.83}]},
"mark":{"type":"circle","size":160,"color":"#5a0a9a","opacity":1},
"encoding":{"x":{"field":"x","type":"quantitative","scale":{"domain":[-5,5]},"axis":null},"y":{"field":"y","type":"quantitative","scale":{"domain":[-5,5]},"axis":null}}
},
{
"data":{"values":[{"x":0.922,"y":-1.187}]},
"mark":{"type":"circle","size":150,"color":"#1e8228","opacity":1},
"encoding":{"x":{"field":"x","type":"quantitative","scale":{"domain":[-5,5]},"axis":null},"y":{"field":"y","type":"quantitative","scale":{"domain":[-5,5]},"axis":null}}
},
{
"data":{"values":[{"x":-3,"y":-4.506}]},
"mark":{"type":"circle","size":155,"color":"#ff0000","opacity":1},
"encoding":{"x":{"field":"x","type":"quantitative","scale":{"domain":[-5,5]},"axis":null},"y":{"field":"y","type":"quantitative","scale":{"domain":[-5,5]},"axis":null}}
}
]
}
